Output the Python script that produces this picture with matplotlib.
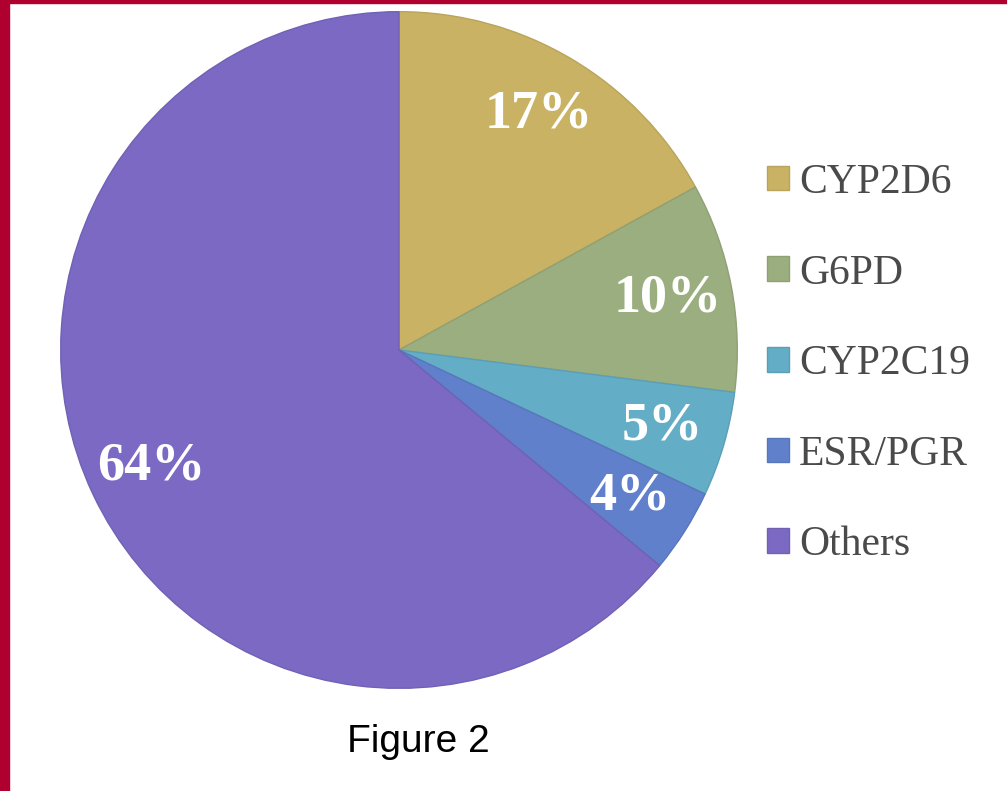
### 薬理遺伝学の遺伝子別内訳（円グラフ）
import matplotlib.pyplot as plt
from matplotlib.patches import Rectangle
import matplotlib.colors as mcolors

# データ
labels = ["CYP2D6", "G6PD", "CYP2C19", "ESR/PGR", "Others"]
values = [17, 10, 5, 4, 64]
colors = ["#C9B263", "#9BAE7F", "#63ADC6", "#6080CC", "#7B69C4"]

fig = plt.figure(figsize=(10.07, 7.91), dpi=100)
fig.patch.set_facecolor("white")

# 左と上の赤い枠
fig.patches.append(Rectangle((0, 0), 9 / 1007, 1, transform=fig.transFigure,
                             color="#B0002F", zorder=0))
fig.patches.append(Rectangle((0, 1 - 3 / 791), 1, 3 / 791, transform=fig.transFigure,
                             color="#B0002F", zorder=0))

# 円グラフ本体
ax = fig.add_axes([59 / 1007, 101 / 791, 680 / 1007, 680 / 791])
edges = [mcolors.to_rgba(c) for c in colors]
edges = [(r * 0.92, g * 0.92, b * 0.92, 1) for r, g, b, a in edges]

wedges, texts, autotexts = ax.pie(
    values, colors=colors, startangle=90, counterclock=False,
    radius=1, autopct="%d%%", pctdistance=0.81,
    wedgeprops=dict(linewidth=1.0),
    textprops=dict(color="white", fontsize=39, fontweight="bold",
                   family="Liberation Serif"))
for w, e in zip(wedges, edges):
    w.set_edgecolor(e)
ax.set_xlim(-1.005, 1.005)
ax.set_ylim(-1.005, 1.005)
ax.set_aspect("equal")
ax.axis("off")

# 凡例
fig.legend(wedges, labels, loc="center left", bbox_to_anchor=(767 / 1007, 0.540),
           frameon=False, borderpad=0, borderaxespad=0,
           prop=dict(family="Liberation Serif", size=30),
           labelcolor="#4a4a4a", handlelength=0.53, handleheight=0.53,
           handletextpad=0.24, labelspacing=1.25)

# キャプション
fig.text(418 / 1007, 1 - 742 / 791, "Figure 2", ha="center", va="center",
         fontsize=28, family="Liberation Sans", color="black")

plt.savefig("out.png", dpi=100)
